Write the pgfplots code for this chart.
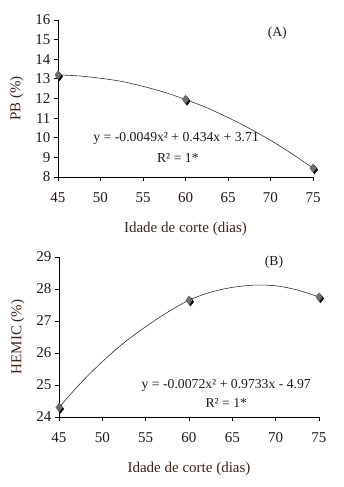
\documentclass[border=0pt]{standalone}
\usepackage{fontspec}
\setmainfont{Liberation Serif}
\usepackage{pgfplots}
\pgfplotsset{compat=1.18}
\definecolor{txt}{RGB}{35,25,25}
\definecolor{lab}{RGB}{60,35,25}
\definecolor{mk}{RGB}{110,110,110}
\tikzset{eq/.style={font=\fontsize{13.7}{13.7}\selectfont, text=txt}}
\pgfplotsset{
  myax/.style={
    scale only axis,
    axis x line*=bottom, axis y line*=left,
    axis line style={black,-,line width=0.8pt},
    tick align=outside, major tick length=4pt,
    tick style={black,line width=0.8pt},
    xmin=45, xmax=75, xtick={45,50,...,75},
    /pgf/number format/assume math mode=true,
    tick label style={font=\fontsize{15}{15}\selectfont, text=txt},
    xticklabel style={yshift=-8pt},
    label style={font=\fontsize{15}{15}\selectfont, text=lab},
    xlabel={Idade de corte (dias)},
    clip=false,
  },
  curve/.style={black!80, line width=0.6pt, smooth, no marks},
  shad/.style={only marks, mark=diamond*, mark size=4.3pt, mark options={fill=black,draw=black}, every mark/.append style={xshift=1.5pt,yshift=-1.5pt}},
  pts/.style={only marks, mark=diamond*, mark size=4.3pt, mark options={fill=mk,draw=mk}},
}
\begin{document}
\begin{tikzpicture}[x=1pt,y=1pt]
\useasboundingbox (0,0) rectangle (343,487);
\begin{axis}[myax, at={(58pt,310pt)}, anchor=south west,
  width=255pt, height=157pt,
  ymin=8, ymax=16, ytick={8,9,...,16},
  ylabel={PB (\%)},
  xlabel style={yshift=-13pt},
  ylabel style={yshift=5pt},
]
\addplot[curve] coordinates {(45,13.2)(47.5,13.15)(50,13.03)(52.5,12.87)(55,12.62)(57.5,12.32)(60,11.95)(62.5,11.53)(65,11.03)(67.5,10.48)(70,9.87)(72.5,9.19)(75,8.45)};
\addplot[shad] coordinates {(45,13.2)(60,11.95)(75,8.45)};
\addplot[pts] coordinates {(45,13.2)(60,11.95)(75,8.45)};
\node[eq] at (axis cs:70.8,15.35) {(A)};
\node[eq] at (axis cs:58.9,9.95) {y = -0.0049x² + 0.434x + 3.71};
\node[eq] at (axis cs:59.1,8.97) {R² = 1*};
\end{axis}
\begin{axis}[myax, at={(59pt,70pt)}, anchor=south west,
  width=260pt, height=160pt,
  ymin=24, ymax=29, ytick={24,25,...,29},
  ylabel={HEMIC (\%)},
  xlabel style={yshift=-13pt},
  ylabel style={yshift=5pt},
]
\addplot[curve] coordinates {(45,24.3)(47.5,25.06)(50,25.73)(52.5,26.32)(55,26.82)(57.5,27.27)(60,27.65)(62.5,27.9)(65,28.05)(67.5,28.12)(70,28.1)(72.5,27.97)(75,27.75)};
\addplot[shad] coordinates {(45,24.3)(60,27.65)(75,27.75)};
\addplot[pts] coordinates {(45,24.3)(60,27.65)(75,27.75)};
\node[eq] at (axis cs:69.8,28.84) {(B)};
\node[eq] at (axis cs:64.3,25.0) {y = -0.0072x² + 0.9733x - 4.97};
\node[eq] at (axis cs:64.3,24.44) {R² = 1*};
\end{axis}
\end{tikzpicture}
\end{document}
